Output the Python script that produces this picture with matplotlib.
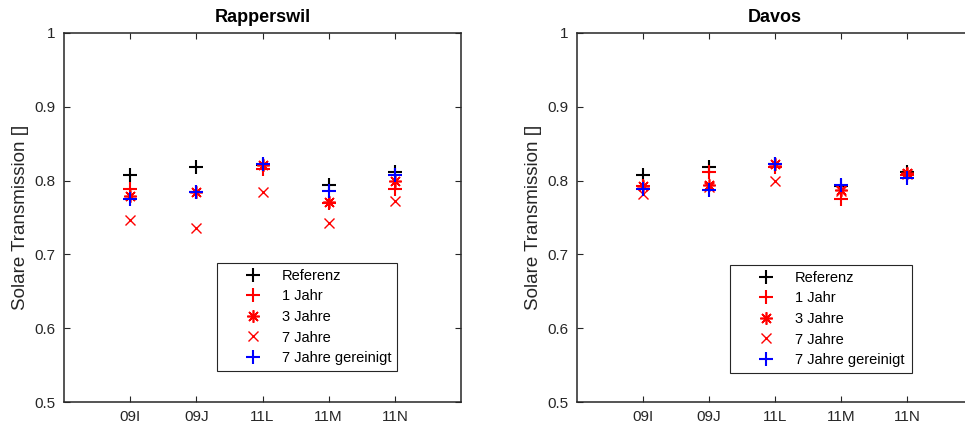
import matplotlib
matplotlib.use("Agg")
import matplotlib.pyplot as plt

plt.rcParams['font.family'] = ['Liberation Sans', 'DejaVu Sans']

categories = ['09I', '09J', '11L', '11M', '11N']
series_names = ['Referenz', '1 Jahr', '3 Jahre', '7 Jahre', '7 Jahre gereinigt']

# Rapperswil
rap_ref = [0.807, 0.819, 0.821, 0.794, 0.812]
rap_1 = [0.789, 0.785, 0.816, 0.769, 0.789]
rap_3 = [0.779, 0.784, 0.821, 0.771, 0.800]
rap_7 = [0.747, 0.736, 0.784, 0.743, 0.773]
rap_7c = [0.775, 0.785, 0.822, 0.786, 0.808]

# Davos
dav_ref = [0.807, 0.819, 0.822, 0.793, 0.811]
dav_1 = [0.793, 0.811, 0.819, 0.775, 0.808]
dav_3 = [0.793, 0.794, 0.822, 0.787, 0.810]
dav_7 = [0.782, 0.791, 0.800, 0.786, 0.809]
dav_7c = [0.789, 0.787, 0.823, 0.794, 0.804]

styles = [
    dict(marker='+', color='black', markersize=10, mew=1.5),
    dict(marker='+', color='red', markersize=10, mew=1.5),
    dict(marker=(8, 2, 0), color='red', markersize=9, mew=1.2),
    dict(marker='x', color='red', markersize=7, mew=1.0),
    dict(marker='+', color='blue', markersize=10, mew=1.5),
]

W, H = 965, 430
fig = plt.figure(figsize=(W / 100, H / 100), dpi=100)


def draw_panel(rect, title, data, legend_rect):
    ax = fig.add_axes(rect)
    x = range(1, len(categories) + 1)
    for vals, name, st in zip(data, series_names, styles):
        ax.plot(x, vals, linestyle='none', label=name, **st)
    ax.set_xlim(0, 6)
    ax.set_ylim(0.5, 1.0)
    ax.set_xticks(range(1, 6))
    ax.set_xticklabels(categories)
    ax.set_yticks([0.5, 0.6, 0.7, 0.8, 0.9, 1.0])
    ax.set_yticklabels(['0.5', '0.6', '0.7', '0.8', '0.9', '1'])
    ax.tick_params(direction='in', top=True, right=True, length=4,
                   width=0.8, colors='#262626', labelsize=11, pad=6)
    for sp in ax.spines.values():
        sp.set_linewidth(1.1)
        sp.set_color('#262626')
    ax.set_title(title, fontsize=13, fontweight='bold', pad=8)
    ax.set_ylabel('Solare Transmission []', fontsize=13.5, color='#262626', labelpad=4)
    leg = ax.legend(loc='upper left', bbox_to_anchor=legend_rect, mode='expand',
                    fontsize=10.5, frameon=True, fancybox=False, framealpha=1,
                    borderpad=0.4, handlelength=4.2, handletextpad=-0.15,
                    labelspacing=0.45, borderaxespad=0)
    leg.get_frame().set_edgecolor('#262626')
    leg.get_frame().set_linewidth(0.8)
    return ax


def rect_px(x0, x1, y0, y1):
    return [x0 / W, (H - y1) / H, (x1 - x0) / W, (y1 - y0) / H]


def leg_px(x0, x1, y0, y1, ax_px):
    ax0, ax1, ay0, ay1 = ax_px
    return ((x0 - ax0) / (ax1 - ax0), (ay1 - y1) / (ay1 - ay0),
            (x1 - x0) / (ax1 - ax0), (y1 - y0) / (ay1 - ay0))


left_px = (64, 461, 33, 402)
right_px = (577, 973, 33, 402)

draw_panel(rect_px(*left_px), 'Rapperswil',
           [rap_ref, rap_1, rap_3, rap_7, rap_7c],
           leg_px(217, 397, 263, 371, left_px))
draw_panel(rect_px(*right_px), 'Davos',
           [dav_ref, dav_1, dav_3, dav_7, dav_7c],
           leg_px(730, 912, 265, 373, right_px))

fig.savefig('out.png', dpi=100)
